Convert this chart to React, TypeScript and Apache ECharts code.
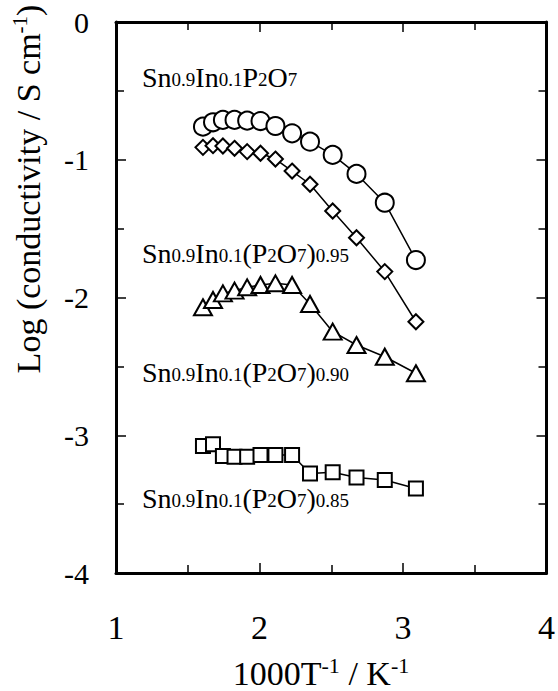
import React, { useEffect, useRef } from "react";
import * as echarts from "echarts";

const xValues = [1.606, 1.676, 1.745, 1.826, 1.914, 2.007, 2.111, 2.227, 2.352, 2.51, 2.676, 2.873, 3.09];
const circleY = [-0.76, -0.728, -0.711, -0.711, -0.716, -0.719, -0.755, -0.808, -0.869, -0.965, -1.103, -1.312, -1.728];
const diamondY = [-0.91, -0.898, -0.9, -0.917, -0.941, -0.953, -0.995, -1.082, -1.178, -1.372, -1.566, -1.812, -2.176];
const triangleY = [-2.071, -2.018, -1.97, -1.95, -1.926, -1.909, -1.897, -1.909, -2.047, -2.248, -2.345, -2.43, -2.55];
const squareY = [-3.078, -3.066, -3.151, -3.156, -3.156, -3.143, -3.143, -3.143, -3.277, -3.269, -3.306, -3.325, -3.386];

const labels = [
  "{m|Sn}{s|0.9}{m|In}{s|0.1}{m|P}{s|2}{m|O}{s|7}",
  "{m|Sn}{s|0.9}{m|In}{s|0.1}{m|(P}{s|2}{m|O}{s|7}{m|)}{s|0.95}",
  "{m|Sn}{s|0.9}{m|In}{s|0.1}{m|(P}{s|2}{m|O}{s|7}{m|)}{s|0.90}",
  "{m|Sn}{s|0.9}{m|In}{s|0.1}{m|(P}{s|2}{m|O}{s|7}{m|)}{s|0.85}",
];
const labelBaselines = [85, 261, 380, 506];

const FONT = "Liberation Serif";

export default function App() {
  const ref = useRef<HTMLDivElement>(null);
  useEffect(() => {
    if (!ref.current) return;
    const chart = echarts.init(ref.current, undefined, { renderer: "svg" });
    const mk = (data: number[], symbol: string, size: any) => ({
      type: "line",
      data: xValues.map((x, i) => [x, data[i]]),
      symbol,
      symbolSize: size,
      showAllSymbol: true,
      lineStyle: { color: "#000", width: 1.5 },
      itemStyle: { color: "#fff", borderColor: "#000", borderWidth: 2 },
      emphasis: { disabled: true },
    });
    const axisCommon = {
      type: "value",
      axisLine: { show: true, onZero: false, lineStyle: { color: "#000", width: 3 } },
      splitLine: { show: false },
      axisTick: { show: true, inside: true, length: 10, lineStyle: { color: "#000", width: 1.5 } },
      minorTick: { show: true, splitNumber: 2, length: 8, lineStyle: { color: "#000", width: 1.5 } },
    };
    const richMain = {
      m: { fontSize: 28, fontFamily: FONT, color: "#000", lineHeight: 30, verticalAlign: "bottom" },
      s: { fontSize: 19, fontFamily: FONT, color: "#000", lineHeight: 30, verticalAlign: "bottom", padding: [0, 0, 2, 0] },
    };
    chart.setOption({
      animation: false,
      backgroundColor: "#fff",
      textStyle: { fontFamily: FONT },
      grid: { left: 116, right: 10, top: 22, bottom: 118 },
      xAxis: [
        {
          ...axisCommon,
          min: 1,
          max: 4,
          interval: 1,
          position: "bottom",
          axisLabel: { show: true, fontSize: 34, fontFamily: FONT, color: "#000", margin: 37 },
        },
        {
          ...axisCommon,
          min: 1,
          max: 4,
          interval: 1,
          position: "top",
          axisLabel: { show: false },
        },
      ],
      yAxis: [
        {
          ...axisCommon,
          min: -4,
          max: 0,
          interval: 1,
          position: "left",
          axisLabel: { show: true, fontSize: 30, fontFamily: FONT, color: "#000", margin: 27 },
        },
        {
          ...axisCommon,
          min: -4,
          max: 0,
          interval: 1,
          position: "right",
          axisLabel: { show: false },
        },
      ],
      series: [
        mk(squareY, "rect", 14),
        mk(triangleY, "triangle", [18, 16]),
        mk(diamondY, "diamond", 15),
        mk(circleY, "circle", 18),
      ],
      graphic: [
        ...labels.map((t, i) => ({
          type: "text",
          x: 142,
          y: labelBaselines[i] + 6,
          style: {
            text: t,
            rich: richMain,
            align: "left",
            verticalAlign: "bottom",
          },
        })),
        {
          type: "text",
          x: 321,
          y: 690,
          style: {
            text: "{m|1000T}{u|-1}{m| / K}{u|-1}",
            align: "center",
            verticalAlign: "bottom",
            rich: {
              m: { fontSize: 34, fontFamily: FONT, color: "#000", lineHeight: 36, verticalAlign: "bottom" },
              u: { fontSize: 22, fontFamily: FONT, color: "#000", lineHeight: 36, verticalAlign: "top" },
            },
          },
        },
        {
          type: "text",
          x: 27,
          y: 189,
          rotation: Math.PI / 2,
          style: {
            text: "{m|Log (conductivity / S cm}{u|-1}{m|)}",
            align: "center",
            verticalAlign: "middle",
            rich: {
              m: { fontSize: 34, fontFamily: FONT, color: "#000", lineHeight: 36, verticalAlign: "bottom" },
              u: { fontSize: 21, fontFamily: FONT, color: "#000", lineHeight: 36, verticalAlign: "top" },
            },
          },
        },
      ],
    });
    return () => chart.dispose();
  }, []);
  return <div ref={ref} style={{ width: 558, height: 691, position: "absolute", left: 0, top: 0 }} />;
}
